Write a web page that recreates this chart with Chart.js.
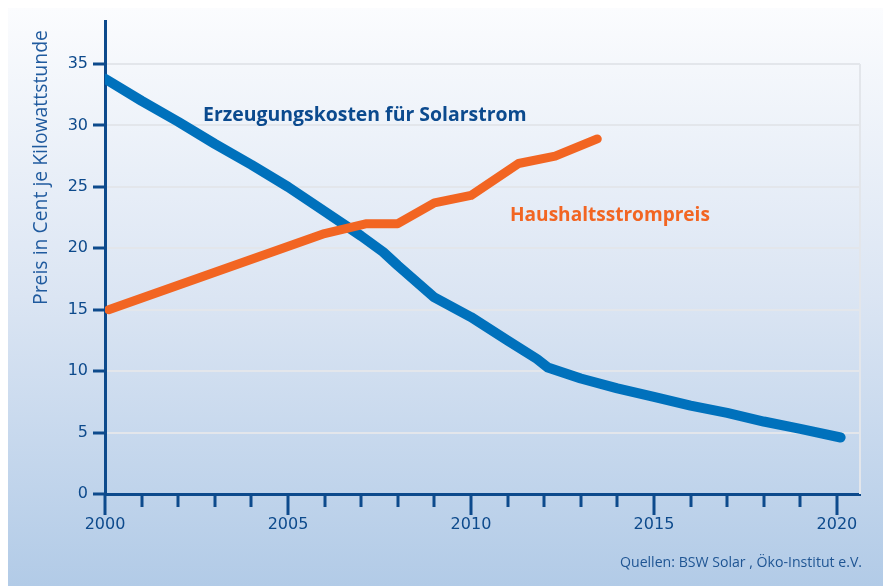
<!DOCTYPE html>
<html>
<head>
<meta charset="utf-8">
<script src="https://cdn.jsdelivr.net/npm/chart.js@4"></script>
<style>
  html, body { margin: 0; padding: 0; background: #ffffff; }
  #wrap { width: 883px; height: 586px; }
</style>
</head>
<body>
<div id="wrap"><canvas id="chart" width="883" height="586"></canvas></div>
<script>
// Erzeugungskosten für Solarstrom (Cent/kWh)
const solarYears = [2000, 2001, 2002, 2003, 2004, 2005, 2006, 2007, 2007.6, 2008, 2009, 2010, 2011, 2011.8, 2012.1, 2013, 2014, 2015, 2016, 2017, 2018, 2019, 2020.1];
const solarCost = [33.8, 32.0, 30.3, 28.5, 26.8, 25.0, 23.0, 21.0, 19.7, 18.6, 16.0, 14.4, 12.5, 11.0, 10.3, 9.4, 8.6, 7.9, 7.2, 6.6, 5.9, 5.3, 4.6];

// Haushaltsstrompreis (Cent/kWh)
const priceYears = [2000.1, 2006, 2007.15, 2008, 2009, 2010, 2011.3, 2012.3, 2013.45];
const priceValues = [15.0, 21.2, 22.0, 22.0, 23.7, 24.3, 26.9, 27.5, 28.9];

const yTicks = [0, 5, 10, 15, 20, 25, 30, 35];
const xTicks = [2000, 2005, 2010, 2015, 2020];

const navy = '#0d4a8c';
const gridCol = '#e3e6eb';

function toPoints(xs, ys) {
    return xs.map((x, i) => ({ x: x, y: ys[i] }));
}

// pick a font size so the text spans roughly the width seen in the original
function fitFont(ctx, text, weight, family, width) {
    ctx.font = weight + ' 20px ' + family;
    const size = 20 * width / ctx.measureText(text).width;
    ctx.font = weight + ' ' + size.toFixed(2) + 'px ' + family;
}

// background panel, minor/major year ticks, labels
const decor = {
    id: 'decor',
    beforeDraw(chart) {
        const ctx = chart.ctx;
        const g = ctx.createLinearGradient(0, 8, 0, 586);
        g.addColorStop(0, '#fbfcfe');
        g.addColorStop(0.5, '#dbe5f3');
        g.addColorStop(1, '#b2cbe7');
        ctx.save();
        ctx.fillStyle = '#ffffff';
        ctx.fillRect(0, 0, 883, 586);
        ctx.fillStyle = g;
        ctx.fillRect(8, 8, 875, 578);
        ctx.restore();
    },
    beforeDatasetsDraw(chart) {
        const ctx = chart.ctx;
        const y = chart.scales.y;
        const a = chart.chartArea;
        ctx.save();
        ctx.strokeStyle = gridCol;
        ctx.lineWidth = 2;
        ctx.beginPath();
        ctx.moveTo(a.right, y.getPixelForValue(35));
        ctx.lineTo(a.right, y.getPixelForValue(0));
        ctx.stroke();
        ctx.restore();
    },
    afterDraw(chart) {
        const ctx = chart.ctx;
        const x = chart.scales.x;
        const y = chart.scales.y;
        const bottom = y.getPixelForValue(0);
        ctx.save();
        ctx.strokeStyle = navy;
        ctx.lineWidth = 3;
        for (let yr = 2000; yr <= 2020; yr++) {
            const px = Math.round(x.getPixelForValue(yr));
            const len = yr % 5 === 0 ? 21 : 13;
            ctx.beginPath();
            ctx.moveTo(px, bottom);
            ctx.lineTo(px, bottom + len);
            ctx.stroke();
        }

        ctx.textBaseline = 'alphabetic';
        ctx.textAlign = 'left';
        ctx.fillStyle = '#0b4a8e';
        fitFont(ctx, 'Erzeugungskosten für Solarstrom', 'bold', '"Open Sans"', 324);
        ctx.fillText('Erzeugungskosten für Solarstrom', 203, 121);
        ctx.fillStyle = '#f26522';
        fitFont(ctx, 'Haushaltsstrompreis', 'bold', '"Open Sans"', 200);
        ctx.fillText('Haushaltsstrompreis', 510, 221);

        // axis title, rotated
        ctx.save();
        ctx.translate(47, 305);
        ctx.rotate(-Math.PI / 2);
        ctx.fillStyle = '#1f5a9e';
        fitFont(ctx, 'Preis in Cent je Kilowattstunde', 'normal', '"Open Sans"', 275);
        ctx.fillText('Preis in Cent je Kilowattstunde', 0, 0);
        ctx.restore();

        ctx.textAlign = 'right';
        ctx.fillStyle = '#1f5593';
        fitFont(ctx, 'Quellen: BSW Solar , Öko-Institut e.V.', 'normal', '"Open Sans"', 242);
        ctx.fillText('Quellen: BSW Solar , Öko-Institut e.V.', 862, 567);
        ctx.restore();
    }
};

const ctx = document.getElementById('chart').getContext('2d');
new Chart(ctx, {
    type: 'line',
    data: {
        datasets: [{
            label: 'Haushaltsstrompreis',
            data: toPoints(priceYears, priceValues),
            borderColor: '#f26522',
            borderWidth: 9,
            borderCapStyle: 'round',
            borderJoinStyle: 'round',
            pointRadius: 0,
            tension: 0,
            fill: false
        }, {
            label: 'Erzeugungskosten für Solarstrom',
            data: toPoints(solarYears, solarCost),
            borderColor: '#0071bc',
            borderWidth: 10,
            borderCapStyle: 'round',
            borderJoinStyle: 'round',
            pointRadius: 0,
            tension: 0,
            fill: false
        }]
    },
    options: {
        responsive: false,
        animation: false,
        layout: { padding: { left: 8, top: 21, right: 23, bottom: 0 } },
        plugins: {
            legend: { display: false },
            tooltip: { enabled: false }
        },
        scales: {
            x: {
                type: 'linear',
                min: 2000,
                max: 2020.63,
                afterBuildTicks: s => { s.ticks = xTicks.map(v => ({ value: v })); },
                afterFit: s => { s.height = 92; },
                ticks: {
                    color: navy,
                    font: { family: 'DejaVu Sans', size: 16 },
                    padding: 21,
                    maxRotation: 0,
                    callback: v => String(v)
                },
                grid: { display: true, drawOnChartArea: false, drawTicks: false },
                border: { display: true, color: navy, width: 3 }
            },
            y: {
                min: 0,
                max: 38.5,
                afterBuildTicks: s => { s.ticks = yTicks.map(v => ({ value: v })); },
                afterFit: s => { s.width = 97; },
                ticks: {
                    color: navy,
                    font: { family: 'DejaVu Sans', size: 16 },
                    padding: 5
                },
                grid: {
                    color: c => (c.tick && c.tick.value > 0) ? gridCol : 'rgba(0,0,0,0)',
                    lineWidth: 2,
                    tickColor: navy,
                    tickWidth: 3,
                    tickLength: 12
                },
                border: { display: true, color: navy, width: 3 }
            }
        }
    },
    plugins: [decor]
});
</script>
</body>
</html>
